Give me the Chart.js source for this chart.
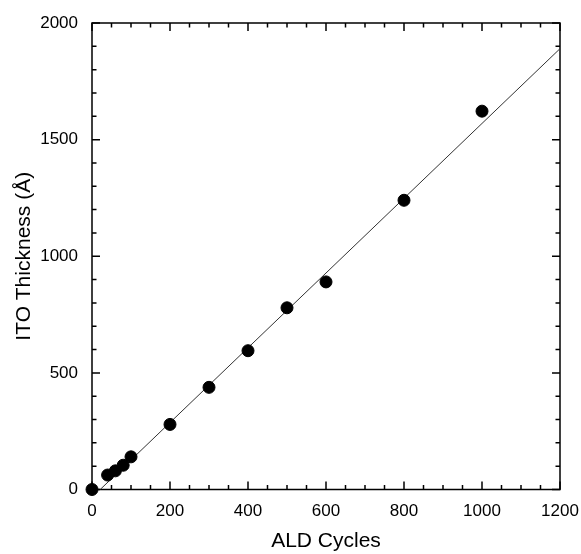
<!DOCTYPE html>
<html>
<head>
<meta charset="utf-8">
<script src="https://cdn.jsdelivr.net/npm/chart.js@4.4.1/dist/chart.umd.min.js"></script>
<style>
  html, body { margin: 0; padding: 0; background: #ffffff; }
  #wrap { width: 581px; height: 554px; position: relative; }
</style>
</head>
<body>
<div id="wrap"><canvas id="c"></canvas></div>
<script>
// ---- data ----
const cycles    = [0, 40, 60, 80, 100, 200, 300, 400, 500, 600, 800, 1000];
const thickness = [0, 62, 80, 104, 140, 279, 438, 595, 779, 890, 1240, 1622];
// linear fit line endpoints (as drawn in the figure)
const fitX = [21, 1200];
const fitY = [0, 1890];

const xTitle = 'ALD Cycles';
const yTitle = 'ITO Thickness (Å)';
const xMajor = 200, xMinor = 50, xMin = 0, xMax = 1200;
const yMajor = 500, yMinor = 100, yMin = 0, yMax = 2000;

const FONT = '"Liberation Sans", Arial, Helvetica, sans-serif';

const frameTicks = {
  id: 'frameTicks',
  beforeDatasetsDraw(chart) {
    const ctx = chart.ctx;
    const a = chart.chartArea;
    const xs = chart.scales.x, ys = chart.scales.y;
    ctx.save();
    ctx.strokeStyle = '#000';
    ctx.lineWidth = 1.5;
    ctx.strokeRect(a.left, a.top, a.right - a.left, a.bottom - a.top);
    ctx.beginPath();
    for (let v = xMin; v <= xMax + 1e-9; v += xMinor) {
      const px = xs.getPixelForValue(v);
      const len = (Math.abs(v % xMajor) < 1e-9) ? 8 : 4.5;
      ctx.moveTo(px, a.bottom); ctx.lineTo(px, a.bottom - len);
      ctx.moveTo(px, a.top); ctx.lineTo(px, a.top + len);
    }
    for (let v = yMin; v <= yMax + 1e-9; v += yMinor) {
      const py = ys.getPixelForValue(v);
      const len = (Math.abs(v % yMajor) < 1e-9) ? 8 : 4.5;
      ctx.moveTo(a.left, py); ctx.lineTo(a.left + len, py);
      ctx.moveTo(a.right, py); ctx.lineTo(a.right - len, py);
    }
    ctx.stroke();
    ctx.restore();
  }
};

const points = cycles.map((c, i) => ({ x: c, y: thickness[i] }));
const fit = fitX.map((c, i) => ({ x: c, y: fitY[i] }));

new Chart(document.getElementById('c'), {
  type: 'scatter',
  data: {
    datasets: [
      {
        type: 'line',
        data: fit,
        borderColor: '#333',
        borderWidth: 1,
        pointRadius: 0,
        fill: false,
        tension: 0,
        order: 2
      },
      {
        data: points,
        backgroundColor: '#000',
        borderColor: '#000',
        pointRadius: 6,
        pointHoverRadius: 6,
        clip: false,
        order: 1
      }
    ]
  },
  options: {
    responsive: true,
    maintainAspectRatio: false,
    animation: false,
    events: [],
    layout: { padding: { top: 23, right: 21, bottom: 0, left: 0 } },
    plugins: { legend: { display: false }, tooltip: { enabled: false } },
    scales: {
      x: {
        type: 'linear',
        min: xMin, max: xMax,
        grid: { display: false, drawTicks: false },
        border: { display: false },
        ticks: { stepSize: xMajor, color: '#000', font: { family: FONT, size: 17 }, padding: 12, maxRotation: 0,
                 callback: v => String(v) },
        title: { display: true, text: xTitle, color: '#000', font: { family: FONT, size: 21 }, padding: { top: 0, bottom: 0 } },
        afterFit(s) { s.height = 64.5; s.paddingRight = 0; s.paddingLeft = 0; }
      },
      y: {
        type: 'linear',
        min: yMin, max: yMax,
        grid: { display: false, drawTicks: false },
        border: { display: false },
        ticks: { stepSize: yMajor, color: '#000', font: { family: FONT, size: 17 }, padding: 14,
                 callback: v => String(v) },
        title: { display: true, text: yTitle, color: '#000', font: { family: FONT, size: 21 }, padding: { top: 12, bottom: 0 } },
        afterFit(s) { s.width = 92; s.paddingTop = 0; s.paddingBottom = 0; }
      }
    }
  },
  plugins: [frameTicks]
});
</script>
</body>
</html>
